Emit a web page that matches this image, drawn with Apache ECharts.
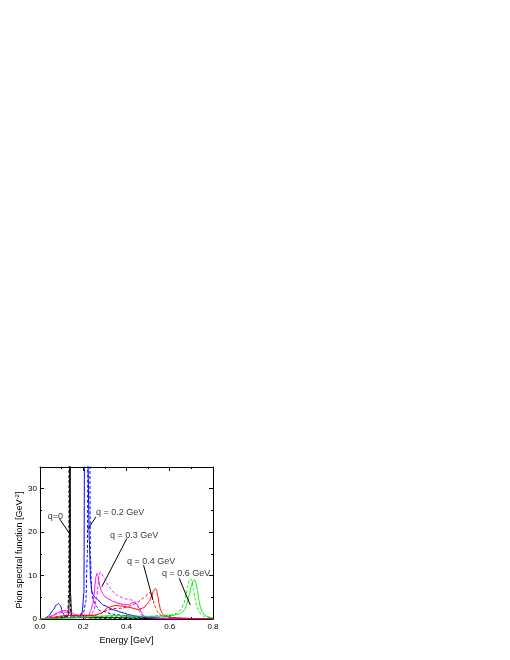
<!DOCTYPE html>
<html>
<head>
<meta charset="utf-8">
<script src="https://cdn.jsdelivr.net/npm/echarts@6/dist/echarts.min.js"></script>
<style>
  html, body { margin: 0; padding: 0; background: #fff; }
  #chart { width: 510px; height: 660px; }
</style>
</head>
<body>
<div id="chart"></div>
<script>
// ---- data: [energy GeV, spectral function GeV^-2] ----
const q0Solid = [[0,0],[0.03,0.05],[0.08,0.2],[0.12,0.4],[0.132,1],[0.137,6],[0.139,60],[0.141,6],[0.146,1],[0.16,0.4],[0.25,0.3],[0.35,0.3],[0.45,0.2],[0.6,0.1],[0.8,0.05]];
const q0Dashed = [[0,0],[0.05,0.1],[0.1,0.3],[0.128,1],[0.133,6],[0.1355,60],[0.138,6],[0.143,1],[0.16,0.3],[0.3,0.2],[0.5,0.1],[0.8,0.05]];

const q02Solid = [[0,0],[0.02,0.1],[0.04,0.7],[0.06,2.0],[0.075,3.2],[0.085,3.6],[0.095,3.0],[0.105,1.5],[0.115,0.6],[0.13,0.3],[0.16,0.3],[0.185,0.5],[0.195,1.5],[0.203,6],[0.206,40],[0.22,40],[0.222,35],[0.228,18],[0.234,9],[0.24,6.2],[0.25,5.2],[0.263,4.6],[0.293,3.2],[0.34,2.1],[0.386,1.4],[0.41,1.0],[0.45,0.6],[0.5,0.3],[0.6,0.1],[0.8,0.05]];
const q02Dashed = [[0,0],[0.03,0.1],[0.06,0.3],[0.1,0.5],[0.15,0.7],[0.2,1.2],[0.212,4],[0.219,15],[0.222,40],[0.23,40],[0.233,15],[0.238,7],[0.245,4.5],[0.255,3.2],[0.278,1.9],[0.34,1.1],[0.4,0.7],[0.45,0.4],[0.5,0.2],[0.8,0.05]];

const q03Solid = [[0,0],[0.02,0.1],[0.05,0.6],[0.08,1.4],[0.1,1.8],[0.115,1.95],[0.13,1.8],[0.15,1.3],[0.17,0.8],[0.19,0.5],[0.21,0.5],[0.225,0.9],[0.235,2],[0.244,3.5],[0.25,5.5],[0.255,8],[0.259,9.8],[0.264,10.5],[0.268,10.0],[0.272,8.8],[0.277,7.5],[0.283,6.5],[0.29,5.8],[0.301,5.1],[0.32,4.5],[0.34,4.0],[0.365,3.6],[0.386,3.3],[0.41,3.3],[0.43,3.8],[0.445,3.6],[0.46,2.5],[0.47,1.4],[0.48,0.7],[0.5,0.3],[0.55,0.1],[0.8,0.05]];
const q03Dashed = [[0,0],[0.03,0.2],[0.06,0.8],[0.09,1.4],[0.115,1.6],[0.14,1.4],[0.17,0.8],[0.2,0.5],[0.225,0.6],[0.24,1.2],[0.25,2.2],[0.262,5],[0.268,7.5],[0.273,9.7],[0.279,10.8],[0.285,10.5],[0.292,9.8],[0.301,9.2],[0.312,8.0],[0.324,7.1],[0.34,6.2],[0.355,5.5],[0.38,4.9],[0.4,4.6],[0.42,4.4],[0.435,4.2],[0.45,3.2],[0.46,1.8],[0.47,0.9],[0.49,0.4],[0.55,0.1],[0.8,0.05]];

const q04Solid = [[0,0],[0.03,0.1],[0.06,0.4],[0.1,0.7],[0.15,0.8],[0.2,0.9],[0.24,0.8],[0.26,0.9],[0.286,1.4],[0.316,2.7],[0.347,3.1],[0.378,3.0],[0.409,2.7],[0.455,2.2],[0.48,2.6],[0.495,3.4],[0.505,4.1],[0.517,5.3],[0.525,6.5],[0.532,7.0],[0.538,6.8],[0.545,5.3],[0.551,3.5],[0.557,2.2],[0.565,1.3],[0.575,0.8],[0.6,0.4],[0.65,0.2],[0.7,0.1],[0.8,0.05]];
const q04Dashed = [[0,0],[0.03,0.1],[0.06,0.3],[0.1,0.6],[0.15,0.7],[0.2,0.8],[0.25,0.9],[0.28,1.3],[0.31,2.0],[0.34,2.4],[0.38,2.5],[0.41,2.9],[0.435,3.4],[0.455,4.0],[0.475,4.7],[0.49,5.3],[0.5,5.9],[0.508,6.1],[0.515,5.6],[0.522,4.5],[0.53,3.1],[0.54,1.9],[0.55,1.2],[0.565,0.7],[0.6,0.35],[0.7,0.1],[0.8,0.05]];

const q06Solid = [[0,0],[0.05,0.1],[0.1,0.2],[0.2,0.4],[0.3,0.7],[0.35,0.8],[0.4,0.7],[0.5,0.6],[0.6,0.7],[0.64,1.1],[0.66,1.6],[0.67,2.2],[0.68,3.6],[0.69,5.5],[0.7,7.6],[0.708,8.8],[0.715,9.0],[0.721,8.4],[0.728,6.5],[0.735,4.3],[0.742,2.7],[0.75,1.7],[0.76,1.0],[0.775,0.5],[0.8,0.2]];
const q06Dashed = [[0,0],[0.05,0.1],[0.1,0.2],[0.2,0.35],[0.3,0.6],[0.4,0.6],[0.5,0.6],[0.6,0.9],[0.63,1.3],[0.645,1.8],[0.655,2.4],[0.665,3.6],[0.675,5.5],[0.683,7.5],[0.69,8.9],[0.696,9.3],[0.702,8.7],[0.709,7.0],[0.716,4.9],[0.723,3.2],[0.732,2.0],[0.745,1.1],[0.76,0.6],[0.8,0.15]];

// annotation labels [x, y, text] and leader lines, in data units
const noteLabels = [[0.036,23.7,'q=0'],[0.259,24.45,'q = 0.2 GeV'],[0.324,19.3,'q = 0.3 GeV'],[0.402,13.3,'q = 0.4 GeV'],[0.564,10.5,'q = 0.6 GeV']];
const noteLines = [
  [[0.0894,23.16],[0.139,19.48]],
  [[0.259,23.5],[0.221,20.7]],
  [[0.402,18.56],[0.286,7.43]],
  [[0.479,12.4],[0.522,4.37]],
  [[0.644,9.36],[0.695,3.22]]
];

const xTicks = [0, 0.8, 0.2]; // min, max, interval
const yTicks = [0, 35, 10];

const chart = echarts.init(document.getElementById('chart'));
const font = 'Liberation Sans, Arial, sans-serif';

// 曲线通用设置
function curve(data, color, dashed) {
  return {
    type: 'line',
    data: data,
    showSymbol: false,
    smooth: 0.25,
    smoothMonotone: 'x',
    clip: true,
    silent: true,
    lineStyle: { color: color, width: 1, type: dashed ? [3, 2] : 'solid' },
    z: dashed ? 3 : 4
  };
}

const axisCommon = {
  axisLine: { show: true, onZero: false, lineStyle: { color: '#000', width: 1 } },
  axisTick: { show: true, inside: true, length: 4, lineStyle: { color: '#000' } },
  minorTick: { show: true, splitNumber: 2, length: 2, lineStyle: { color: '#000' } },
  splitLine: { show: false }
};

const series = [
  curve(q0Dashed, '#000000', true),
  curve(q0Solid, '#000000', false),
  curve(q02Dashed, '#0000ff', true),
  curve(q02Solid, '#0000ff', false),
  curve(q03Dashed, '#ff00ff', true),
  curve(q03Solid, '#ff00ff', false),
  curve(q04Dashed, '#ff0000', true),
  curve(q04Solid, '#ff0000', false),
  curve(q06Dashed, '#00ee00', true),
  curve(q06Solid, '#00ee00', false)
];

// 引线
noteLines.forEach(function (seg) {
  series.push({
    type: 'line', data: seg, showSymbol: false, silent: true, z: 6,
    lineStyle: { color: '#000', width: 1 }
  });
});

// 标注文字
series.push({
  type: 'scatter',
  symbolSize: 0,
  silent: true,
  z: 7,
  data: noteLabels.map(function (d) { return { value: [d[0], d[1]], name: d[2] }; }),
  label: {
    show: true, position: 'right', distance: 0,
    formatter: '{b}', color: '#000', fontFamily: font, fontSize: 9
  }
});

chart.setOption({
  animation: false,
  grid: { left: 40, right: 297, top: 467, bottom: 41 },
  xAxis: [
    Object.assign({}, axisCommon, {
      type: 'value', min: xTicks[0], max: xTicks[1], interval: xTicks[2], position: 'bottom',
      name: 'Energy [GeV]', nameLocation: 'middle', nameGap: 17,
      nameTextStyle: { fontFamily: font, fontSize: 9, color: '#000' },
      axisLabel: { fontFamily: font, fontSize: 8, color: '#000', margin: 4,
        formatter: function (v) { return v.toFixed(1); } }
    }),
    Object.assign({}, axisCommon, {
      type: 'value', min: xTicks[0], max: xTicks[1], interval: xTicks[2], position: 'top',
      axisLabel: { show: false }
    })
  ],
  yAxis: [
    Object.assign({}, axisCommon, {
      type: 'value', min: yTicks[0], max: yTicks[1], interval: yTicks[2], position: 'left',
      name: 'Pion spectral function [GeV{sup|-2}]', nameLocation: 'middle', nameGap: 15,
      nameTextStyle: { fontFamily: font, fontSize: 9, color: '#000', padding: [0, 14, 0, 0],
        rich: { sup: { fontFamily: font, fontSize: 6, color: '#000', verticalAlign: 'top', padding: [0, 0, 5, 0] } } },
      axisLabel: { fontFamily: font, fontSize: 8, color: '#000', margin: 3, showMaxLabel: false }
    }),
    Object.assign({}, axisCommon, {
      type: 'value', min: yTicks[0], max: yTicks[1], interval: yTicks[2], position: 'right',
      axisLabel: { show: false }
    })
  ],
  series: series
});
</script>
</body>
</html>
